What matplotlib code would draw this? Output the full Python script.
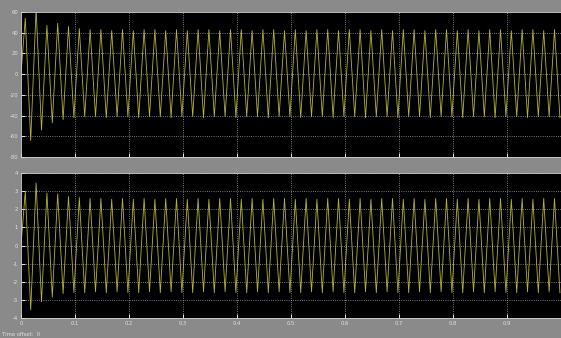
import matplotlib
matplotlib.use("Agg")
import matplotlib.pyplot as plt
import numpy as np

# Scope traces: one peak and one trough per 20 ms cycle (50 Hz)
peak_t = np.arange(0.008, 1.0, 0.02)
trough_t = np.arange(0.018, 1.0, 0.02)

top_peaks = [54, 63, 47, 49, 46, 44, 43, 43, 42, 43,
             42, 43, 43, 42, 43, 42, 43, 43, 42, 43,
             43, 42, 43, 43, 42, 43, 42, 43, 43, 42,
             43, 43, 42, 43, 42, 43, 43, 42, 43, 43,
             42, 43, 42, 43, 43, 42, 43, 43, 42, 43]
top_troughs = [-64, -54, -47, -44, -42, -41, -41, -42, -41, -41,
               -42, -41, -41, -42, -41, -41, -42, -41, -41, -42,
               -41, -41, -42, -41, -41, -42, -41, -41, -42, -41,
               -41, -42, -41, -41, -42, -41, -41, -42, -41, -41,
               -42, -41, -41, -42, -41, -41, -42, -41, -41, -42]

bot_peaks = [3.0, 3.45, 2.9, 2.85, 2.7, 2.65, 2.6, 2.6, 2.55, 2.6,
             2.55, 2.6, 2.55, 2.6, 2.6, 2.55, 2.6, 2.55, 2.6, 2.6,
             2.55, 2.6, 2.55, 2.6, 2.6, 2.55, 2.6, 2.55, 2.6, 2.6,
             2.55, 2.6, 2.55, 2.6, 2.6, 2.55, 2.6, 2.55, 2.6, 2.6,
             2.55, 2.6, 2.55, 2.6, 2.6, 2.55, 2.6, 2.55, 2.6, 2.6]
bot_troughs = [-3.55, -3.1, -2.85, -2.65, -2.6, -2.6, -2.55, -2.6, -2.55, -2.6,
               -2.6, -2.55, -2.6, -2.55, -2.6, -2.6, -2.55, -2.6, -2.55, -2.6,
               -2.6, -2.55, -2.6, -2.55, -2.6, -2.6, -2.55, -2.6, -2.55, -2.6,
               -2.6, -2.55, -2.6, -2.55, -2.6, -2.6, -2.55, -2.6, -2.55, -2.6,
               -2.6, -2.55, -2.6, -2.55, -2.6, -2.6, -2.55, -2.6, -2.55, -2.6]

x_ticks = [0, 0.1, 0.2, 0.3, 0.4, 0.5, 0.6, 0.7, 0.8, 0.9]
x_labels = ["0", "0.1", "0.2", "0.3", "0.4", "0.5", "0.6", "0.7", "0.8", "0.9"]
top_yticks = [-80, -60, -40, -20, 0, 20, 40, 60]
bot_yticks = [-4, -3, -2, -1, 0, 1, 2, 3, 4]


def trace(peaks, troughs):
    # interleave peaks and troughs, starting from zero at t=0
    t = np.empty(2 * len(peaks) + 1)
    v = np.empty(2 * len(peaks) + 1)
    t[0], v[0] = 0.0, 0.0
    t[1::2], v[1::2] = peak_t, peaks
    t[2::2], v[2::2] = trough_t, troughs
    return t, v


fig = plt.figure(figsize=(5.61, 3.38), dpi=100, facecolor="#8a8a8a")
ax1 = fig.add_axes([0.0374, 0.5355, 0.9626, 0.429])
ax2 = fig.add_axes([0.0374, 0.059, 0.9626, 0.429])

panels = [(ax1, top_peaks, top_troughs, top_yticks, (-80, 60)),
          (ax2, bot_peaks, bot_troughs, bot_yticks, (-4, 4))]

for ax, pk, tr, yt, yl in panels:
    ax.set_facecolor("black")
    t, v = trace(pk, tr)
    ax.plot(t, v, color="#c8c83c", linewidth=0.6, alpha=0.9)
    ax.set_xlim(0, 1)
    ax.set_ylim(*yl)
    ax.set_yticks(yt)
    ax.set_yticklabels([str(y) for y in yt])
    ax.set_xticks(x_ticks)
    ax.grid(True, color="#a0a0a0", linestyle=":", linewidth=0.6)
    ax.tick_params(colors="white", labelcolor="#e0e0e0", labelsize=3.8,
                   direction="in", length=3, width=0.6, pad=2)
    for s in ax.spines.values():
        s.set_color("#d0d0d0")
        s.set_linewidth(0.6)

ax1.set_xticklabels([])
ax2.set_xticklabels(x_labels)

fig.text(0.003, 0.002, "Time offset:  0", color="#e0e0e0", fontsize=3.8,
         ha="left", va="bottom")

fig.savefig("out.png", dpi=100, facecolor=fig.get_facecolor())
